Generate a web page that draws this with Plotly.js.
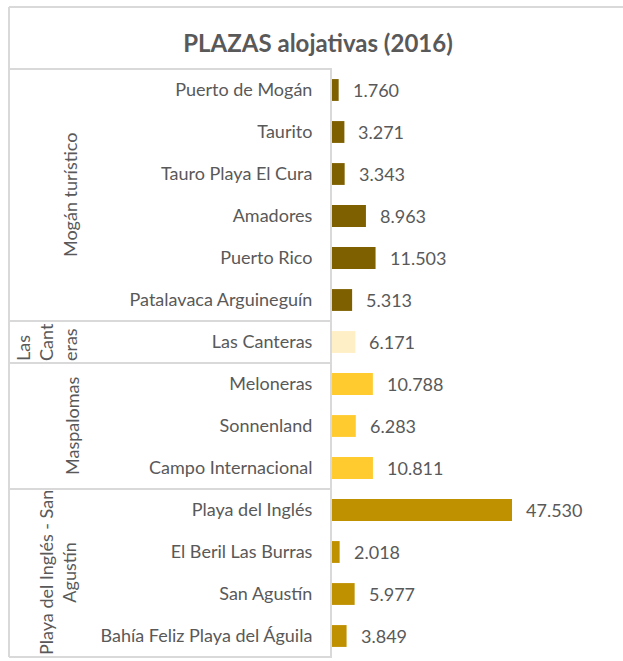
<!DOCTYPE html>
<html>
<head>
<meta charset="utf-8">
<script src="https://cdn.plot.ly/plotly-3.0.1.min.js"></script>
<style>
html,body{margin:0;padding:0;background:#fff;}
#chart{width:623px;height:661px;}
</style>
</head>
<body>
<div id="chart"></div>
<script>
// ---- data ----
const chartTitle = "PLAZAS alojativas (2016)";
const categories = [
  "Puerto de Mogán", "Taurito", "Tauro Playa El Cura", "Amadores", "Puerto Rico",
  "Patalavaca Arguineguín", "Las Canteras", "Meloneras", "Sonnenland",
  "Campo Internacional", "Playa del Inglés", "El Beril Las Burras",
  "San Agustín", "Bahía Feliz Playa del Águila"
];
const values = [1760, 3271, 3343, 8963, 11503, 5313, 6171, 10788, 6283, 10811, 47530, 2018, 5977, 3849];
const groupNames = ["Mogán turístico", "Las<br>Cant<br>eras", "Maspalomas", "Playa del Inglés - San<br>Agustín"];
const groupSizes = [6, 1, 3, 4];
const groupColors = ["#7F6000", "#FFEFC6", "#FFCB2F", "#BF9000"];

// ---- build ----
const barColors = [];
groupSizes.forEach((n, g) => { for (let i = 0; i < n; i++) barColors.push(groupColors[g]); });
const fmt = v => String(v).replace(/\B(?=(\d{3})+(?!\d))/g, ".");

const textColor = "#595959";
const lineColor = "#D9D9D9";
const font = "Lato, 'Open Sans', sans-serif";
const fs = 18;

const W = 623, H = 661;
const plotL = 332, plotR = 621, plotT = 69, plotB = 657;
const plotW = plotR - plotL;
const boxLeftPx = 9;
const xPaperLeft = (boxLeftPx - plotL) / plotW;

const nRows = categories.length;
const shapes = [];
// group separators
let acc = 0;
const boundaries = [0];
groupSizes.forEach(n => { acc += n; boundaries.push(acc); });
boundaries.forEach(b => {
  shapes.push({type: "line", xref: "paper", yref: "paper",
    x0: xPaperLeft, x1: 0, y0: 1 - b / nRows, y1: 1 - b / nRows,
    line: {color: lineColor, width: 2}});
});
// box left edge
shapes.push({type: "line", xref: "paper", yref: "paper",
  x0: xPaperLeft, x1: xPaperLeft, y0: 0, y1: 1, line: {color: lineColor, width: 2}});
// outer chart border (top & left)
const outerTopPaper = 1 + (plotT - 7) / (plotB - plotT);
shapes.push({type: "line", xref: "paper", yref: "paper",
  x0: xPaperLeft, x1: 1 + (W - plotR + 5) / plotW, y0: outerTopPaper, y1: outerTopPaper,
  line: {color: lineColor, width: 2}});
shapes.push({type: "line", xref: "paper", yref: "paper",
  x0: xPaperLeft, x1: xPaperLeft, y0: 1, y1: outerTopPaper,
  line: {color: lineColor, width: 2}});

const annotations = [];
// value labels
categories.forEach((c, i) => {
  annotations.push({x: values[i], y: c, xref: "x", yref: "y", text: fmt(values[i]),
    showarrow: false, xanchor: "left", yanchor: "middle", xshift: 12,
    font: {family: font, size: fs, color: textColor}});
});
// group labels
const groupX = [70, 46, 72, 57];
acc = 0;
groupSizes.forEach((n, g) => {
  const mid = 1 - (acc + n / 2) / nRows;
  acc += n;
  annotations.push({xref: "paper", yref: "paper",
    x: (groupX[g] - plotL) / plotW, y: mid, text: groupNames[g],
    textangle: -90, showarrow: false, xanchor: "center", yanchor: "middle",
    align: g === 1 ? "left" : "center",
    font: {family: font, size: fs, color: textColor}});
});

const trace = {
  type: "bar", orientation: "h",
  x: values, y: categories,
  marker: {color: barColors},
  width: 0.52,
  hoverinfo: "x+y"
};

const layout = {
  width: W, height: H,
  margin: {l: plotL, r: W - plotR, t: plotT, b: H - plotB, pad: 0},
  paper_bgcolor: "#fff", plot_bgcolor: "#fff",
  title: {text: "<b>" + chartTitle + "</b>", xref: "container", yref: "container",
    x: 318 / W, xanchor: "center", y: 1 - 44 / H, yanchor: "middle",
    font: {family: font, size: 24, color: textColor}},
  showlegend: false,
  xaxis: {range: [0, 47530 * plotW / 180], visible: false, fixedrange: true},
  yaxis: {type: "category", autorange: "reversed", showline: true, linecolor: lineColor,
    linewidth: 2, showgrid: false, zeroline: false, ticks: "", ticklabelstandoff: 14,
    tickfont: {family: font, size: fs, color: textColor}, fixedrange: true},
  shapes: shapes,
  annotations: annotations
};

Plotly.newPlot("chart", [trace], layout, {displayModeBar: false, staticPlot: true});
</script>
</body>
</html>
